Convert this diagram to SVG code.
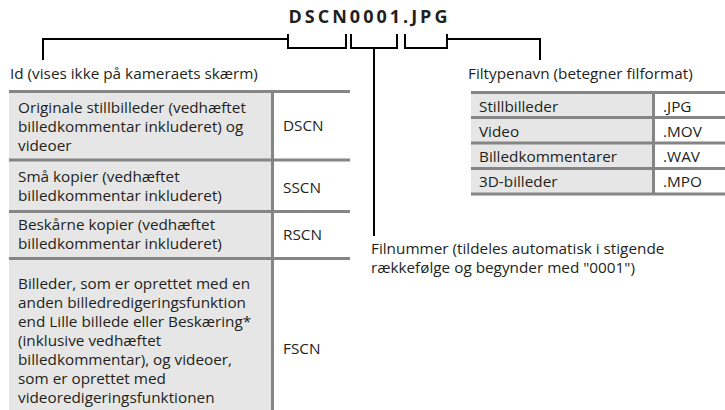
<svg xmlns="http://www.w3.org/2000/svg" width="725" height="410" viewBox="0 0 725 410">
<style>
text{font-family:"Open Sans","Noto Sans","DejaVu Sans",sans-serif;font-size:15.3px;fill:#231f20}
.title{font-weight:bold;font-size:18px;letter-spacing:3px}
.cell{fill:#e6e6e6}
.rule{stroke:#858585;stroke-width:3;fill:none}
.conn{stroke:#000;stroke-width:2;fill:none}
</style>
<rect width="725" height="410" fill="#fff"/>
<g id="filename"><text class="title" x="369.5" y="23" text-anchor="middle">DSCN0001.JPG</text></g>
<g id="connectors">
<path class="conn" d="M43,60 V39 H288"/>
<path class="conn" d="M288,34 V48 H346 V34"/>
<path class="conn" d="M351,34 V48 H397 V34"/>
<path class="conn" d="M374,48 V236"/>
<path class="conn" d="M405,34 V48 H447 V34"/>
<path class="conn" d="M447,39 H540 V60"/>
</g>
<g id="id-label"><text x="10" y="79">Id (vises ikke på kameraets skærm)</text></g>
<g id="id-table">
<rect class="cell" x="9" y="91" width="263" height="319"/>
<path class="rule" d="M9,91.5 H350 M9,160 H350 M9,211.5 H350 M9,258.5 H350 M272.5,91 V410"/>
<g id="row-dscn"><text x="18" y="113">Originale stillbilleder (vedhæftet</text><text x="18" y="132">billedkommentar inkluderet) og</text><text x="18" y="151">videoer</text><text x="283" y="131">DSCN</text></g>
<g id="row-sscn"><text x="18" y="182">Små kopier (vedhæftet</text><text x="18" y="201">billedkommentar inkluderet)</text><text x="283" y="193">SSCN</text></g>
<g id="row-rscn"><text x="18" y="230">Beskårne kopier (vedhæftet</text><text x="18" y="249">billedkommentar inkluderet)</text><text x="283" y="240">RSCN</text></g>
<g id="row-fscn"><text x="18" y="289">Billeder, som er oprettet med en</text><text x="18" y="308">anden billedredigeringsfunktion</text><text x="18" y="327">end Lille billede eller Beskæring*</text><text x="18" y="346">(inklusive vedhæftet</text><text x="18" y="365">billedkommentar), og videoer,</text><text x="18" y="384">som er oprettet med</text><text x="18" y="403">videoredigeringsfunktionen</text><text x="283" y="354">FSCN</text></g>
</g>
<g id="ext-label"><text x="468" y="79">Filtypenavn (betegner filformat)</text></g>
<g id="ext-table">
<rect class="cell" x="471" y="92" width="182" height="102"/>
<path class="rule" d="M471,92.5 H725 M471,117.5 H725 M471,143 H725 M471,168.5 H725 M471,194 H725 M653.5,92 V195.5"/>
<text x="479" y="112">Stillbilleder</text><text x="663" y="112">.JPG</text>
<text x="479" y="137">Video</text><text x="663" y="137">.MOV</text>
<text x="479" y="162">Billedkommentarer</text><text x="663" y="162">.WAV</text>
<text x="479" y="187">3D-billeder</text><text x="663" y="187">.MPO</text>
</g>
<g id="num-label"><text x="371" y="254">Filnummer (tildeles automatisk i stigende</text><text x="371" y="273">rækkefølge og begynder med "0001")</text></g>
</svg>
